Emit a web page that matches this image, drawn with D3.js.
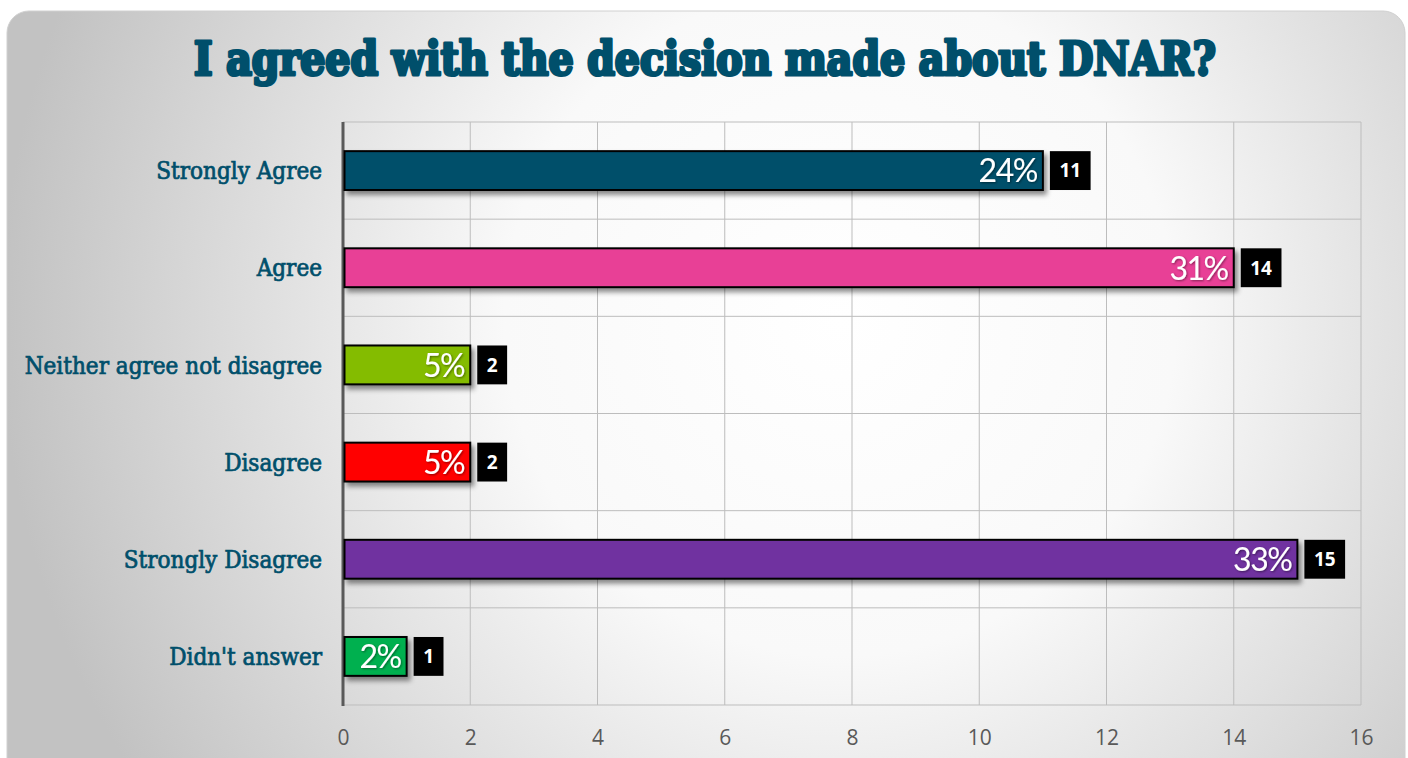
<!DOCTYPE html>
<html>
<head>
<meta charset="utf-8">
<script src="https://cdn.jsdelivr.net/npm/d3@7"></script>
<style>
html,body{margin:0;padding:0;background:#ffffff;}
svg{display:block;}
</style>
</head>
<body>
<svg id="chart" width="1408" height="758"></svg>
<script>
const title = "I agreed with the decision made about DNAR?";
const categories = ["Strongly Agree","Agree","Neither agree not disagree","Disagree","Strongly Disagree","Didn't answer"];
const counts = [11,14,2,2,15,1];
const percents = ["24%","31%","5%","5%","33%","2%"];
const colors = ["#004f6b","#e83f96","#84bc00","#ff0000","#7030a0","#00b050"];
const xTicks = [0,2,4,6,8,10,12,14,16];

const svg = d3.select("#chart");
const defs = svg.append("defs");

const bg = defs.append("radialGradient").attr("id","bg")
  .attr("gradientUnits","userSpaceOnUse")
  .attr("cx",840).attr("cy",320).attr("r",840);
bg.append("stop").attr("offset","0").attr("stop-color","#ffffff");
bg.append("stop").attr("offset","0.4").attr("stop-color","#f9f9f9");
bg.append("stop").attr("offset","1").attr("stop-color","#c2c2c2");

const sh = defs.append("filter").attr("id","shadow")
  .attr("x","-10%").attr("y","-30%").attr("width","130%").attr("height","190%");
sh.append("feDropShadow").attr("dx",3).attr("dy",4).attr("stdDeviation",2.5)
  .attr("flood-color","#000").attr("flood-opacity",0.45);

const tsh = defs.append("filter").attr("id","tshadow")
  .attr("x","-20%").attr("y","-20%").attr("width","150%").attr("height","150%");
tsh.append("feDropShadow").attr("dx",1).attr("dy",1).attr("stdDeviation",0.8)
  .attr("flood-color","#000").attr("flood-opacity",0.45);

// panel
svg.append("rect").attr("x",7).attr("y",11).attr("width",1398).attr("height",800)
  .attr("rx",22).attr("ry",22).attr("fill","url(#bg)")
  .attr("stroke","#d0d0d0").attr("stroke-width",1);

// title
svg.append("text").attr("x",705).attr("y",75)
  .attr("text-anchor","middle")
  .attr("font-family","'DejaVu Serif Condensed','DejaVu Serif',serif")
  .attr("font-weight","bold").attr("font-size",46)
  .attr("fill","#004f6b").attr("stroke","#004f6b").attr("stroke-width",3.2)
  .attr("stroke-linejoin","round")
  .attr("textLength",1022).attr("lengthAdjust","spacingAndGlyphs")
  .text(title);

const x = d3.scaleLinear().domain([0,16]).range([343,1361]);
const y = d3.scaleBand().domain(categories).range([122,705]).paddingInner(0.6).paddingOuter(0.3);

// grid
const grid = svg.append("g");
grid.selectAll("line.v").data(xTicks).join("line")
  .attr("x1",d=>x(d)).attr("x2",d=>x(d)).attr("y1",122).attr("y2",705)
  .attr("stroke","#bdbdbd").attr("stroke-width",1);
const step = y.step();
grid.selectAll("line.h").data(d3.range(categories.length+1)).join("line")
  .attr("x1",343).attr("x2",1361)
  .attr("y1",i=>122+i*step).attr("y2",i=>122+i*step)
  .attr("stroke","#bdbdbd").attr("stroke-width",1);

// x axis
const xAxis = svg.append("g").attr("transform","translate(0,705)")
  .call(d3.axisBottom(x).tickValues(xTicks).tickSize(0).tickPadding(25));
xAxis.select(".domain").remove();
xAxis.selectAll("text").attr("font-family","'Open Sans',sans-serif")
  .attr("font-size",21).attr("fill","#595959");

// y axis
const yAxis = svg.append("g").attr("transform","translate(343,0)")
  .call(d3.axisLeft(y).tickSize(0).tickPadding(21));
yAxis.select(".domain").remove();
yAxis.selectAll("text").attr("font-family","'DejaVu Serif Condensed','DejaVu Serif',serif")
  .attr("font-size",24).attr("fill","#004f6b").attr("stroke","#004f6b").attr("stroke-width",0.7)
  .attr("dy","0.36em");

svg.append("line").attr("x1",343).attr("x2",343).attr("y1",122).attr("y2",706)
  .attr("stroke","#595959").attr("stroke-width",3);

// bars
const bars = svg.append("g");
bars.selectAll("rect").data(categories).join("rect")
  .attr("x",x(0)+1.5).attr("y",d=>y(d))
  .attr("width",(d,i)=>x(counts[i])-x(0)-1.5)
  .attr("height",y.bandwidth())
  .attr("fill",(d,i)=>colors[i])
  .attr("stroke","#000").attr("stroke-width",2)
  .attr("filter","url(#shadow)");

// percent labels
svg.append("g").selectAll("text").data(categories).join("text")
  .attr("x",(d,i)=>x(counts[i])-6)
  .attr("y",d=>y(d)+y.bandwidth()/2)
  .attr("dy","0.37em")
  .attr("text-anchor","end")
  .attr("font-family","Lato,'Open Sans',sans-serif")
  .attr("font-weight",400)
  .attr("font-size",32).attr("letter-spacing",-1.5).attr("fill","#ffffff")
  .attr("filter","url(#tshadow)")
  .text((d,i)=>percents[i]);

// count boxes
const cg = svg.append("g").selectAll("g").data(categories).join("g");
cg.each(function(d,i){
  const g = d3.select(this);
  const t = g.append("text")
    .attr("y",y(d)+y.bandwidth()/2).attr("dy","0.36em")
    .attr("font-family","'Open Sans',sans-serif").attr("font-weight","bold")
    .attr("font-size",19).attr("fill","#fff")
    .attr("text-anchor","middle")
    .text(counts[i]);
  const w = t.node().getComputedTextLength();
  const bx = x(counts[i]) + 7;
  const bw = w + 19;
  g.insert("rect","text").attr("x",bx).attr("y",y(d)).attr("width",bw).attr("height",y.bandwidth())
    .attr("fill","#000");
  t.attr("x",bx+bw/2);
});
</script>
</body>
</html>
